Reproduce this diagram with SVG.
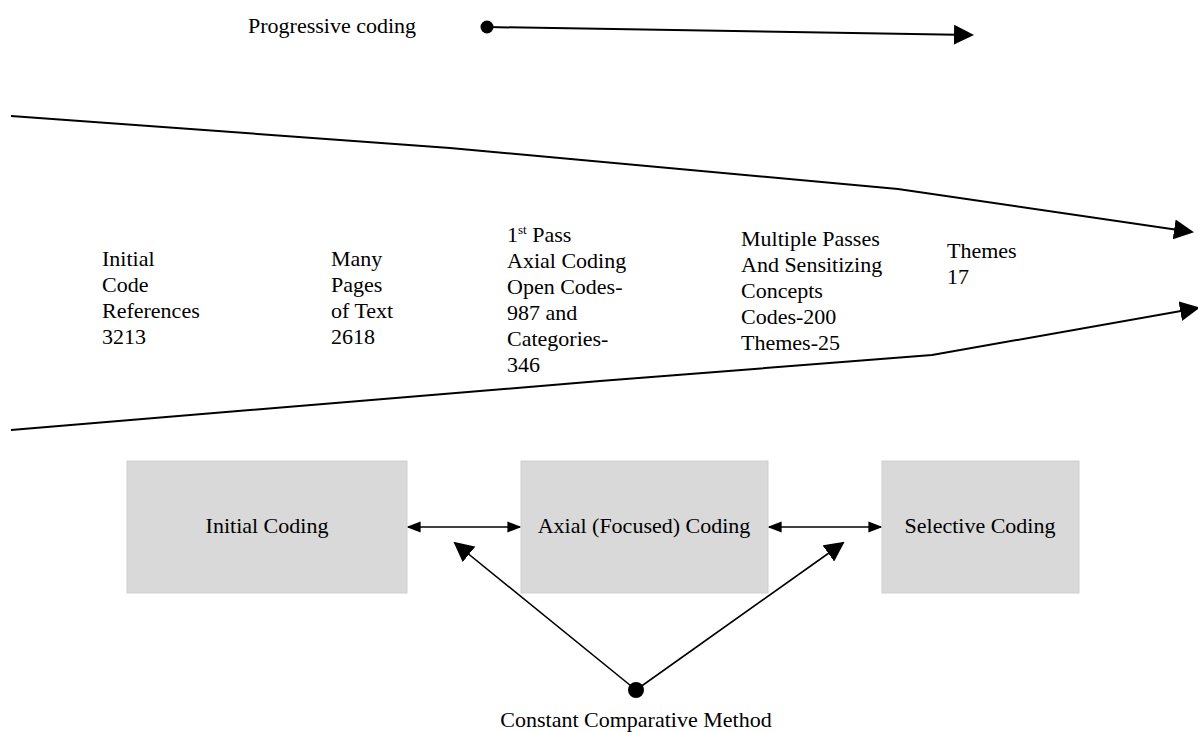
<svg xmlns="http://www.w3.org/2000/svg" width="1198" height="732" viewBox="0 0 1198 732">
<style>
text{font-family:"Liberation Serif","Times New Roman",serif;font-size:22px;fill:#000}
.box{fill:#d9d9d9;stroke:#cfcfcf;stroke-width:1}
.ln{fill:none;stroke:#000;stroke-width:2}
.ln1{fill:none;stroke:#000;stroke-width:1.6}
</style>
<defs>
<marker id="ahL" viewBox="0 0 10 10" refX="9" refY="5" markerWidth="20" markerHeight="20" markerUnits="userSpaceOnUse" orient="auto"><path d="M0,0L10,5L0,10z" fill="#000"/></marker>
<marker id="ahM" viewBox="0 0 10 10" refX="9" refY="5" markerWidth="14" markerHeight="14" markerUnits="userSpaceOnUse" orient="auto-start-reverse"><path d="M0,1L10,5L0,9z" fill="#000"/></marker>
</defs>
<g id="progressive">
<text x="248" y="33">Progressive coding</text>
</g>
<g id="connectors">
<line class="ln" x1="487" y1="27" x2="972" y2="35" marker-end="url(#ahL)"/>
<circle cx="487" cy="27" r="6.5" fill="#000"/>
<polyline class="ln" points="11,116 450,148 898,189 1192,232" marker-end="url(#ahL)"/>
<polyline class="ln" points="11,430 600,381 932,355 1198,308" marker-end="url(#ahL)"/>
<line class="ln1" x1="408" y1="527" x2="520" y2="527" marker-start="url(#ahM)" marker-end="url(#ahM)"/>
<line class="ln1" x1="769" y1="527" x2="881" y2="527" marker-start="url(#ahM)" marker-end="url(#ahM)"/>
<line class="ln1" x1="636" y1="690" x2="455" y2="543" marker-end="url(#ahL)"/>
<line class="ln1" x1="636" y1="690" x2="843" y2="543" marker-end="url(#ahL)"/>
<circle cx="636" cy="690" r="8" fill="#000"/>
</g>
<g id="col1">
<text x="102" y="266">Initial</text>
<text x="102" y="292">Code</text>
<text x="102" y="318">References</text>
<text x="102" y="344">3213</text>
</g>
<g id="col2">
<text x="331" y="266">Many</text>
<text x="331" y="292">Pages</text>
<text x="331" y="318">of Text</text>
<text x="331" y="344">2618</text>
</g>
<g id="col3">
<text x="507" y="242">1<tspan font-size="13" dy="-8">st</tspan><tspan dy="8"> Pass</tspan></text>
<text x="507" y="268">Axial Coding</text>
<text x="507" y="294">Open Codes-</text>
<text x="507" y="320">987 and</text>
<text x="507" y="346">Categories-</text>
<text x="507" y="372">346</text>
</g>
<g id="col4">
<text x="741" y="246">Multiple Passes</text>
<text x="741" y="272">And Sensitizing</text>
<text x="741" y="298">Concepts</text>
<text x="741" y="324">Codes-200</text>
<text x="741" y="350">Themes-25</text>
</g>
<g id="col5">
<text x="947" y="258">Themes</text>
<text x="947" y="284">17</text>
</g>
<g id="initial-coding">
<rect class="box" x="127" y="461" width="280" height="132"/>
<text x="267" y="533" text-anchor="middle">Initial Coding</text>
</g>
<g id="axial-coding">
<rect class="box" x="521" y="461" width="247" height="132"/>
<text x="644" y="533" text-anchor="middle">Axial (Focused) Coding</text>
</g>
<g id="selective-coding">
<rect class="box" x="882" y="461" width="197" height="132"/>
<text x="980" y="533" text-anchor="middle">Selective Coding</text>
</g>
<g id="ccm">
<text x="636" y="727" text-anchor="middle">Constant Comparative Method</text>
</g>
</svg>
